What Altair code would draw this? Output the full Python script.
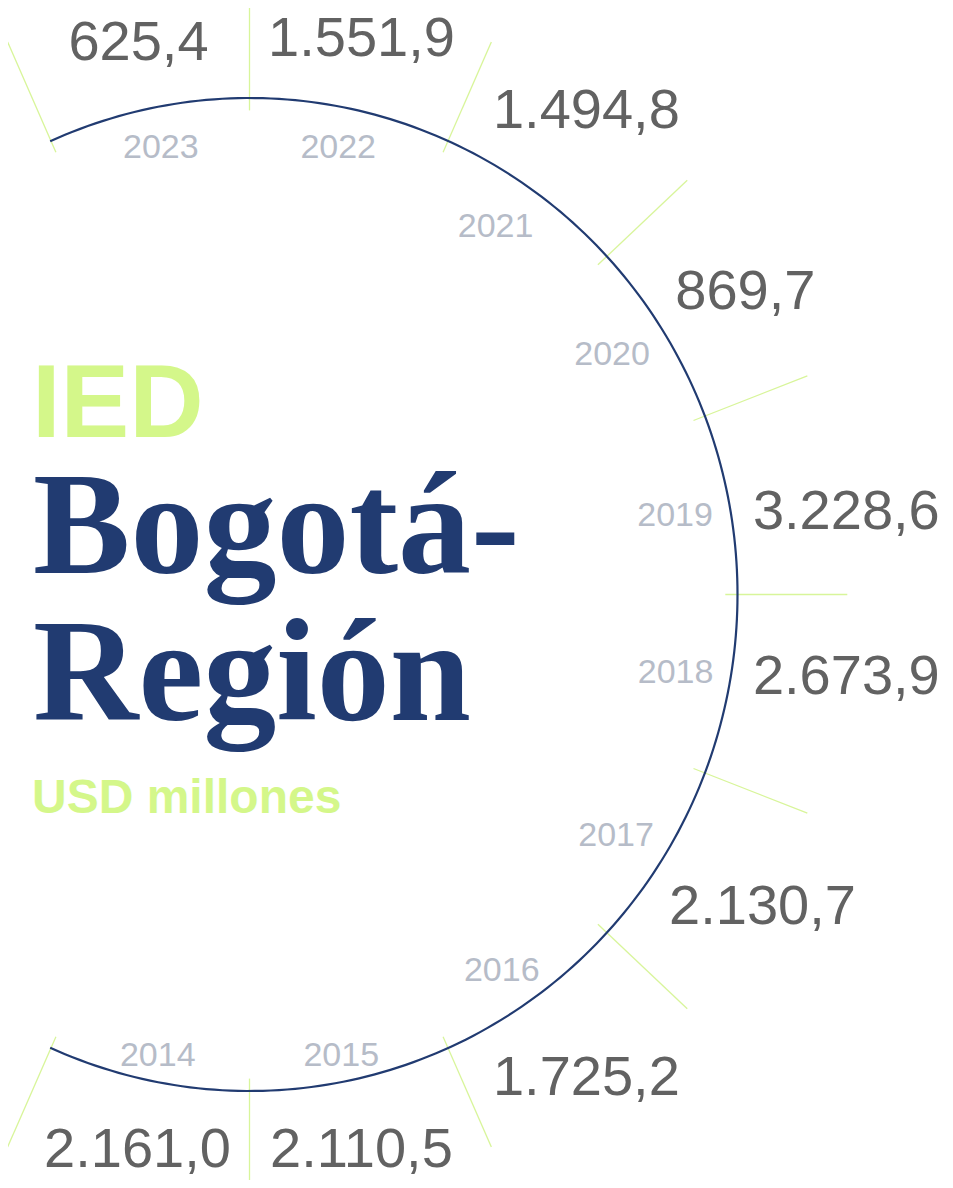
import altair as alt
import numpy as np
import pandas as pd

# ---------------- data ----------------
years = ["2014", "2015", "2016", "2017", "2018", "2019", "2020", "2021", "2022", "2023"]
values = [2161.0, 2110.5, 1725.2, 2130.7, 2673.9, 3228.6, 869.7, 1494.8, 1551.9, 625.4]

# ---------------- style / layout ----------------
NAVY = "#213b71"
GREEN = "#d4f78a"
TICK_GREEN = "#d8f59a"
VAL_GRAY = "#626262"
YEAR_GRAY = "#b6bcc8"

W, H = 937, 1172            # plot area (page minus 8px margins)
CX, CY = 241.5, 586.5       # circle centre in plot pixels
RX, RY = 488.0, 496.5       # circle radii in pixels (x / y)
STEP = 22.5                 # degrees per year sector
START = -112.5              # angle of first tick (bottom-left)
WARP = 0.93                 # sectors are slightly narrower near the horizontal

xdom = [-CX / RX, (W - CX) / RX]
ydom = [-(H - CY) / RY, CY / RY]
xs = alt.Scale(domain=xdom, nice=False, zero=False)
ys = alt.Scale(domain=ydom, nice=False, zero=False)


def fmt(v):
    s = f"{v:,.1f}"
    return s.replace(",", "X").replace(".", ",").replace("X", ".")


labels = [fmt(v) for v in values]

# ---------------- geometry built from the data ----------------
n = len(years)
mid_deg = START + STEP / 2 + STEP * np.arange(n)
mid = np.radians(mid_deg)
c, s = np.cos(mid), np.sin(mid)
toward_h = np.sign(np.sin(mid)) * np.sign(np.cos(mid))

# year labels (inside the circle)
YFS = 34
ya = np.radians(mid_deg - 1.0 * np.abs(c) * toward_h)
yc, ysn = np.cos(ya), np.sin(ya)
hw_y = 0.5 * 4 * 0.556 * YFS
gap_y = np.where(ysn > 0, 16 + 6 * ysn ** 2, 16 - 10 * ysn ** 2)
d_in = gap_y + np.abs(yc) * hw_y + np.abs(ysn) * 12
year_df = pd.DataFrame({
    "year": years,
    "x": yc * (RX - d_in) / RX,
    "y": ysn * (RY - d_in) / RY,
})

# value labels (outside the circle), pulled a little toward the horizontal
VFS = 56
va = np.radians(mid_deg - 3.6 * np.abs(c) ** 1.5 * toward_h)
vc, vs = np.cos(va), np.sin(va)
widths = np.array([VFS * (0.556 * sum(ch.isdigit() for ch in t) + 0.278 * sum(not ch.isdigit() for ch in t)) for t in labels])
d_out = (19 + 14 * vs ** 4) + np.abs(vc) * widths / 2 + np.abs(vs) * 20.5
val_df = pd.DataFrame({
    "label": labels,
    "value": values,
    "x": vc * (RX + d_out) / RX,
    "y": vs * (RY + d_out) / RY,
})

# radial ticks between the sectors
base_ang = np.radians(START + STEP * np.arange(n + 1))
tick_ang = np.arctan2(WARP * np.sin(base_ang), np.cos(base_ang))
tc, ts = np.cos(tick_ang), np.sin(tick_ang)
outer = 1.225 - 0.042 * ts ** 20
tick_df = pd.DataFrame({
    "x": tc * 0.975, "y": ts * 0.975,
    "x2": tc * outer, "y2": ts * outer,
})

# the arc itself
end = np.degrees(np.abs(tick_ang[0])) + 0.1
arc_t = np.radians(np.linspace(-end, end, 241))
arc_df = pd.DataFrame({"i": np.arange(len(arc_t)), "x": np.cos(arc_t), "y": np.sin(arc_t)})


def X(f):
    return alt.X(f, type="quantitative", scale=xs, axis=None)


def Y(f):
    return alt.Y(f, type="quantitative", scale=ys, axis=None)


ticks = alt.Chart(tick_df).mark_rule(color=TICK_GREEN, strokeWidth=1.3).encode(
    x=X("x"), y=Y("y"), x2="x2:Q", y2="y2:Q"
)

arc = alt.Chart(arc_df).mark_line(color=NAVY, strokeWidth=2.2).encode(
    x=X("x"), y=Y("y"), order="i:Q"
)

year_txt = alt.Chart(year_df).mark_text(
    font="Liberation Sans", fontSize=YFS, color=YEAR_GRAY, align="center", baseline="middle"
).encode(x=X("x"), y=Y("y"), text="year:N")

val_txt = alt.Chart(val_df).mark_text(
    font="Liberation Sans", fontSize=VFS, color=VAL_GRAY, align="center", baseline="middle"
).encode(x=X("x"), y=Y("y"), text="label:N")


def title_text(txt, px, py, size, color, font, weight):
    return alt.Chart(pd.DataFrame({"t": [txt]})).mark_text(
        font=font, fontSize=size, color=color, fontWeight=weight,
        align="left", baseline="alphabetic"
    ).encode(x=alt.value(px), y=alt.value(py), text="t:N")


t1 = title_text("IED", 24, 429, 103, GREEN, "Liberation Sans", "bold")
t2 = title_text("Bogotá-", 25, 565, 146, NAVY, "Liberation Serif", "bold")
t3 = title_text("Región", 25, 712, 146, NAVY, "Liberation Serif", "bold")
t4 = title_text("USD millones", 24, 805, 48, GREEN, "Liberation Sans", "bold")

chart = alt.layer(ticks, arc, year_txt, val_txt, t1, t2, t3, t4).properties(
    width=W, height=H,
    autosize=alt.AutoSizeParams(type="none"),
    padding=0,
).configure_view(stroke=None)

chart.save("out.html", embed_options={"renderer": "svg", "actions": False})
